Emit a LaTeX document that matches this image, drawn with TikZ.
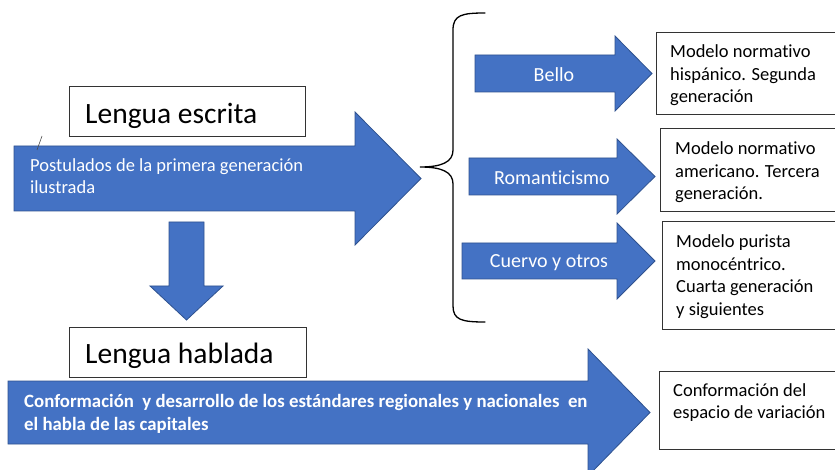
\documentclass[tikz,border=0pt]{standalone}
\usepackage{fontspec}
\setmainfont[Ligatures=NoCommon]{Carlito}
\definecolor{azul}{HTML}{4472C4}
\definecolor{bordeazul}{HTML}{2F528F}
\tikzset{
  flecha/.style={fill=azul,draw=bordeazul,line width=0.8pt,line join=miter},
  caja/.style={draw=black!80,fill=white,line width=1pt},
  titulo/.style={font=\fontsize{29.5}{34}\selectfont,inner sep=0pt,anchor=base west},
  texto/.style={font=\fontsize{18.5}{22.5}\selectfont,align=left,inner sep=0pt,anchor=base west},
  blanco/.style={texto,text=white},
  etiqueta/.style={font=\fontsize{20}{24}\selectfont,text=white,inner sep=0pt,anchor=base}
}
\begin{document}
\begin{tikzpicture}[x=1pt,y=-1pt]
  \clip (0,0) rectangle (835,470);
  \fill[white] (0,0) rectangle (835,470);
  % flechas grandes
  \draw[flecha] (14,146) -- (355,146) -- (355,112) -- (421,178.5) -- (355,245) -- (355,211) -- (14,211) -- cycle;
  \draw[flecha] (169,222) -- (204,222) -- (204,286) -- (223,286) -- (186.5,320) -- (150,286) -- (169,286) -- cycle;
  \draw[flecha] (8,381) -- (588,381) -- (588,349) -- (650,412.5) -- (588,476) -- (588,444) -- (8,444) -- cycle;
  % flechas de la llave
  \draw[flecha] (475,55) -- (615,55) -- (615,36) -- (652,73.5) -- (615,111) -- (615,92) -- (475,92) -- cycle;
  \draw[flecha] (469,158) -- (617,158) -- (617,139) -- (655,176.5) -- (617,214) -- (617,195) -- (469,195) -- cycle;
  \draw[flecha] (462,243) -- (617,243) -- (617,223) -- (655,261) -- (617,299) -- (617,279) -- (462,279) -- cycle;
  % llave
  \draw[line width=1.3pt,line cap=round]
    (485,13) .. controls (462,13) and (453,15) .. (453,30) -- (453,150)
    .. controls (453,162) and (442,167) .. (420,167)
    .. controls (442,167) and (453,172) .. (453,184) -- (453,306)
    .. controls (453,320) and (462,322) .. (485,322);
  \draw[black!70,line width=0.6pt] (42,136) -- (37,150);
  % cajas
  \draw[caja] (69,87) rectangle (305,137);
  \draw[caja] (69,327) rectangle (306,377);
  \draw[caja] (656,33) rectangle (840,115);
  \draw[caja] (660,129) rectangle (840,212);
  \draw[caja] (662,222) rectangle (840,329);
  \draw[caja] (659,371) rectangle (840,449);
  % textos (base = ultima linea)
  \node[titulo] (escrita) at (85,124) {Lengua escrita};
  \node[titulo] (hablada) at (85,363) {Lengua hablada};
  \node[blanco,font=\fontsize{18.5}{21.5}\selectfont] (postulados) at (30,193.5) {Postulados de la primera generación\\ilustrada};
  \node[etiqueta] (bello) at (554,82) {Bello};
  \node[etiqueta] (romanticismo) at (552,185) {Romanticismo};
  \node[etiqueta] (cuervo) at (549,268) {Cuervo y otros};
  \node[texto] (hispanico) at (670,103) {Modelo normativo\\hispánico. Segunda\\generación};
  \node[texto] (americano) at (675,200) {Modelo normativo\\americano. Tercera\\generación.};
  \node[texto] (purista) at (676,315.5) {Modelo purista\\monocéntrico.\\Cuarta generación\\y siguientes};
  \node[blanco,font=\fontsize{18.8}{23}\selectfont\bfseries] (estandares) at (24,430)
    {Conformación\ \ y desarrollo de los estándares regionales y nacionales\ \ en\\el habla de las capitales};
  \node[texto] (variacion) at (673,418.5) {Conformación del\\espacio de variación};
\end{tikzpicture}
\end{document}
